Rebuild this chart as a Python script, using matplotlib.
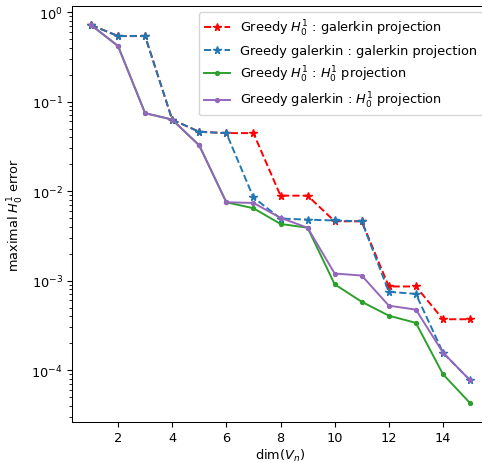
import numpy as np
import matplotlib
matplotlib.use("Agg")
import matplotlib.pyplot as plt

# dimension of the reduced space
dims = np.arange(1, 16)

# maximal H0^1 error for each strategy
err_h1_gal = [0.72, 0.54, 0.54, 0.063, 0.046, 0.0445, 0.0445, 0.0089, 0.0089,
              0.0046, 0.0046, 8.6e-4, 8.6e-4, 3.7e-4, 3.7e-4]
err_gal_gal = [0.72, 0.54, 0.54, 0.063, 0.046, 0.0445, 0.0085, 0.00494, 0.0048,
               0.0047, 0.0046, 7.5e-4, 7.1e-4, 1.57e-4, 7.7e-5]
err_h1_h1 = [0.72, 0.418, 0.0743, 0.063, 0.0324, 0.0075, 0.00644, 0.0043, 0.0039,
             9.1e-4, 5.8e-4, 4.06e-4, 3.37e-4, 9.0e-5, 4.28e-5]
err_gal_h1 = [0.72, 0.418, 0.0743, 0.063, 0.0324, 0.0075, 0.00738, 0.00503, 0.0039,
              0.00120, 0.00114, 5.25e-4, 4.74e-4, 1.57e-4, 7.7e-5]

labels = [r"Greedy $H_0^1$ : galerkin projection",
          r"Greedy galerkin : galerkin projection",
          r"Greedy $H_0^1$ : $H_0^1$ projection",
          r"Greedy galerkin : $H_0^1$ projection"]

# the reference looks like a slightly shrunk default figure
s = 0.93
plt.rcParams['font.size'] = 10 * s
plt.rcParams['lines.linewidth'] = 1.5 * s
plt.rcParams['lines.markersize'] = 6 * s
plt.rcParams['axes.linewidth'] = 0.8 * s
plt.rcParams['xtick.major.size'] = 3.5 * s
plt.rcParams['ytick.major.size'] = 3.5 * s
plt.rcParams['ytick.minor.size'] = 2 * s

fig = plt.figure(figsize=(4.82, 4.64), dpi=100)
ax = fig.add_axes([72 / 482, 1 - 423 / 464, 417 / 482, 416 / 464])

ax.semilogy(dims, err_h1_gal, '--', marker='*', color='red', label=labels[0])
ax.semilogy(dims, err_gal_gal, '--', marker='*', color='tab:blue', label=labels[1])
ax.semilogy(dims, err_h1_h1, '-', marker='.', color='tab:green', label=labels[2])
ax.semilogy(dims, err_gal_h1, '-', marker='.', color='tab:purple', label=labels[3])

ax.set_xticks([2, 4, 6, 8, 10, 12, 14])
ax.set_xlabel(r"dim($V_n$)", labelpad=2)
ax.set_ylabel(r"maximal $H_0^1$ error")
ax.legend(loc='upper right')

fig.savefig("out.png", dpi=100)
